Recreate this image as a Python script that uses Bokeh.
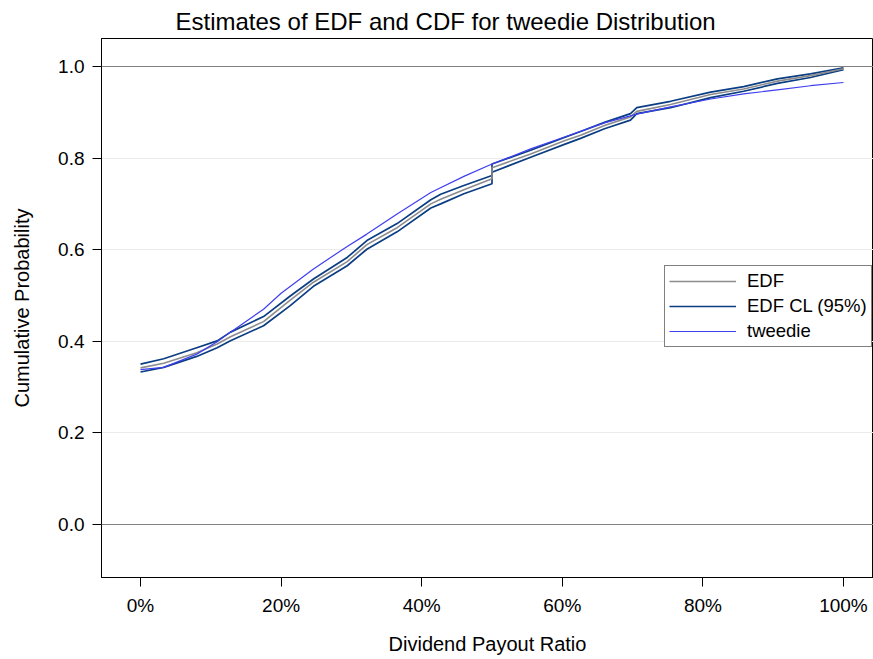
from bokeh.plotting import figure
from bokeh.models import (Range1d, NumeralTickFormatter, FixedTicker, Span, Legend, LegendItem)
from bokeh.embed import file_html
from bokeh.resources import INLINE

# ---- data ----
x_edf = [0.0, 0.033, 0.080, 0.109, 0.128, 0.175, 0.213, 0.246, 0.294, 0.322, 0.365,
         0.413, 0.427, 0.460, 0.500, 0.500, 0.555, 0.603, 0.626, 0.660, 0.697, 0.706,
         0.754, 0.811, 0.858, 0.906, 0.953, 1.0]
edf = [0.342, 0.352, 0.375, 0.394, 0.410, 0.443, 0.490, 0.529, 0.574, 0.611, 0.648,
       0.700, 0.710, 0.731, 0.755, 0.779, 0.809, 0.838, 0.850, 0.871, 0.890, 0.902,
       0.917, 0.939, 0.951, 0.968, 0.980, 0.995]
edf_upper = [0.350, 0.362, 0.386, 0.401, 0.420, 0.454, 0.499, 0.536, 0.583, 0.620, 0.657,
             0.709, 0.721, 0.740, 0.762, 0.787, 0.817, 0.845, 0.858, 0.878, 0.897, 0.910,
             0.924, 0.944, 0.956, 0.973, 0.984, 0.997]
edf_lower = [0.333, 0.343, 0.367, 0.386, 0.401, 0.434, 0.478, 0.520, 0.565, 0.601, 0.639,
             0.691, 0.700, 0.722, 0.744, 0.769, 0.802, 0.830, 0.843, 0.864, 0.883, 0.897,
             0.910, 0.932, 0.946, 0.963, 0.976, 0.993]
x_tw = [0.0, 0.033, 0.080, 0.109, 0.128, 0.175, 0.200, 0.246, 0.294, 0.322, 0.365,
        0.413, 0.460, 0.500, 0.555, 0.603, 0.660, 0.706, 0.754, 0.811, 0.858, 0.906,
        0.953, 1.0]
tweedie = [0.338, 0.343, 0.372, 0.399, 0.420, 0.470, 0.505, 0.558, 0.607, 0.634, 0.678,
           0.725, 0.760, 0.787, 0.820, 0.846, 0.877, 0.896, 0.912, 0.929, 0.940, 0.949,
           0.958, 0.965]
x_ticks = [0.0, 0.2, 0.4, 0.6, 0.8, 1.0]
y_ticks = [0.0, 0.2, 0.4, 0.6, 0.8, 1.0]

FONT = "Liberation Sans"

p = figure(frame_width=772, frame_height=539, output_backend="svg", toolbar_location=None,
           x_range=Range1d(-0.0555, 1.0427), y_range=Range1d(-0.1157, 1.0611),
           min_border_left=101, min_border_right=0, min_border_top=38, min_border_bottom=82,
           title="Estimates of EDF and CDF for tweedie Distribution")
p.background_fill_color = "white"
p.border_fill_color = "white"
p.outline_line_color = "black"
p.outline_line_width = 1

p.title.text_font = FONT
p.title.text_font_size = "24px"
p.title.text_font_style = "normal"
p.title.align = "left"
p.title.offset = 74
p.title.standoff = 7
p.title.text_color = "black"

p.xgrid.visible = False
p.ygrid.ticker = FixedTicker(ticks=[0.2, 0.4, 0.6, 0.8])
p.ygrid.grid_line_color = "#ebebeb"
p.ygrid.grid_line_width = 1

for v in [0.0, 1.0]:
    p.add_layout(Span(location=v, dimension="width", line_color="#808080", line_width=1))

for ax in (p.xaxis[0], p.yaxis[0]):
    ax.axis_line_color = "black"
    ax.major_tick_line_color = "black"
    ax.major_tick_out = 9
    ax.major_tick_in = 0
    ax.minor_tick_line_color = None
    ax.major_label_text_font = FONT
    ax.major_label_text_font_size = "19px"
    ax.major_label_text_color = "black"
    ax.axis_label_text_font = FONT
    ax.axis_label_text_font_size = "20px"
    ax.axis_label_text_font_style = "normal"
    ax.axis_label_text_color = "black"

p.xaxis.ticker = FixedTicker(ticks=x_ticks)
p.xaxis.formatter = NumeralTickFormatter(format="0%")
p.xaxis.axis_label = "Dividend Payout Ratio"
p.xaxis.major_label_standoff = 8
p.xaxis.axis_label_standoff = 14

p.yaxis.ticker = FixedTicker(ticks=y_ticks)
p.yaxis.formatter = NumeralTickFormatter(format="0.0")
p.yaxis.axis_label = "Cumulative Probability"
p.yaxis.major_label_standoff = 8
p.yaxis.axis_label_standoff = 22

r_up = p.line(x_edf, edf_upper, line_color="#0b3d83", line_width=1.7)
r_lo = p.line(x_edf, edf_lower, line_color="#0b3d83", line_width=1.7)
r_edf = p.line(x_edf, edf, line_color="#8c8c8c", line_width=1.6)
r_tw = p.line(x_tw, tweedie, line_color="#3f3ff0", line_width=1.2)

legend = Legend(items=[LegendItem(label="EDF", renderers=[r_edf]),
                       LegendItem(label="EDF CL (95%)", renderers=[r_up]),
                       LegendItem(label="tweedie", renderers=[r_tw])],
                location=(563, 230))
legend.border_line_color = "black"
legend.border_line_width = 1
legend.background_fill_color = "white"
legend.background_fill_alpha = 1
legend.label_text_font = FONT
legend.label_text_font_size = "18.5px"
legend.label_text_color = "black"
legend.glyph_width = 67
legend.glyph_height = 20
legend.label_height = 20
legend.label_standoff = 11
legend.padding = 4
legend.spacing = 3
legend.margin = 0
p.add_layout(legend)

open("out.html", "w").write(file_html(p, INLINE))
